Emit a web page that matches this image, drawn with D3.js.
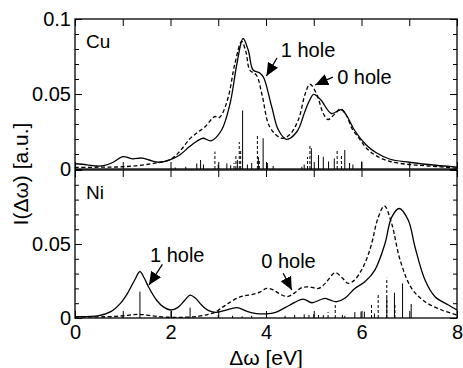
<!DOCTYPE html>
<html>
<head>
<meta charset="utf-8">
<script src="https://cdn.jsdelivr.net/npm/d3@7"></script>
<style>
  body { margin: 0; background: #fff; }
  svg text { font-family: "Liberation Sans", Arial, Helvetica, sans-serif; fill: #000; }
</style>
</head>
<body>
<div id="chart"></div>
<script>
// Cu panel, broadened spectra [energy eV, intensity]
var cuOneHole = [[0,0.0035],[0.25,0.0028],[0.45,0.002],[0.6,0.0022],[0.8,0.0045],[1.0,0.0082],[1.2,0.0068],[1.4,0.0073],[1.55,0.006],[1.75,0.0045],[2.0,0.0062],[2.2,0.0095],[2.4,0.015],[2.55,0.0185],[2.68,0.0205],[2.85,0.0188],[3.07,0.026],[3.25,0.044],[3.39,0.07],[3.52,0.087],[3.63,0.079],[3.73,0.066],[3.87,0.064],[3.95,0.061],[4.12,0.0415],[4.26,0.026],[4.43,0.0198],[4.65,0.025],[4.8,0.037],[4.9,0.045],[5.0,0.0498],[5.15,0.046],[5.37,0.037],[5.58,0.0395],[5.7,0.035],[5.85,0.026],[6.1,0.016],[6.3,0.011],[6.6,0.0065],[7.0,0.0045],[7.4,0.003],[8.0,0.0012]];
var cuZeroHole = [[0,0.001],[0.5,0.0012],[1.0,0.0015],[1.5,0.003],[2.0,0.0065],[2.2,0.012],[2.4,0.02],[2.55,0.024],[2.72,0.028],[2.93,0.035],[3.0,0.034],[3.07,0.036],[3.21,0.048],[3.35,0.0705],[3.49,0.085],[3.58,0.078],[3.66,0.066],[3.8,0.0625],[3.92,0.049],[4.08,0.028],[4.33,0.0205],[4.5,0.023],[4.68,0.033],[4.82,0.05],[4.92,0.0565],[5.06,0.05],[5.2,0.037],[5.3,0.033],[5.45,0.037],[5.56,0.04],[5.68,0.036],[5.8,0.027],[5.95,0.0205],[6.1,0.014],[6.3,0.009],[6.6,0.005],[7.0,0.003],[7.4,0.002],[8.0,0.0005]];
// Cu panel, line spectra [energy eV, weight]
var cuOneHoleSticks = [[2.32,0.0015],[2.55,0.0037],[2.63,0.006],[2.69,0.003],[3.0,0.003],[3.18,0.0037],[3.26,0.0025],[3.4,0.006],[3.51,0.039],[3.61,0.003],[3.7,0.004],[3.84,0.008],[3.94,0.0205],[4.03,0.004],[4.15,0.002],[4.75,0.0015],[4.8,0.003],[4.95,0.0138],[5.1,0.0093],[5.2,0.0082],[5.31,0.005],[5.43,0.007],[5.65,0.0127],[5.75,0.004],[5.82,0.003],[6.0,0.005]];
var cuZeroHoleSticks = [[2.1,0.001],[2.93,0.0116],[3.33,0.004],[3.37,0.0093],[3.44,0.018],[3.47,0.012],[3.82,0.0227],[3.86,0.006],[4.87,0.008],[4.92,0.0167],[5.49,0.0127],[5.58,0.0093]];

// Ni panel
var niOneHole = [[0,0.0009],[0.5,0.0016],[0.75,0.0043],[0.95,0.0099],[1.1,0.0167],[1.25,0.0257],[1.36,0.0313],[1.45,0.027],[1.54,0.021],[1.71,0.012],[1.85,0.0075],[2.0,0.0054],[2.15,0.007],[2.3,0.012],[2.41,0.0155],[2.52,0.0135],[2.65,0.0088],[2.8,0.005],[2.95,0.0038],[3.15,0.0052],[3.39,0.007],[3.6,0.0045],[3.8,0.003],[4.0,0.0028],[4.2,0.0038],[4.4,0.007],[4.6,0.0105],[4.78,0.0128],[4.96,0.0103],[5.15,0.0125],[5.24,0.0133],[5.35,0.012],[5.48,0.011],[5.65,0.0133],[5.86,0.02],[6.07,0.0245],[6.28,0.0324],[6.49,0.05],[6.63,0.068],[6.79,0.074],[6.98,0.066],[7.12,0.048],[7.33,0.0257],[7.54,0.0144],[7.82,0.0088],[8.0,0.0054]];
var niZeroHole = [[0,0.0007],[0.8,0.001],[1.1,0.0018],[1.33,0.0025],[1.6,0.0015],[1.95,0.0005],[2.3,0.0005],[2.6,0.0012],[2.8,0.0025],[2.93,0.0038],[3.1,0.0075],[3.21,0.0099],[3.39,0.0133],[3.55,0.015],[3.7,0.0158],[3.87,0.0175],[4.01,0.02],[4.15,0.019],[4.3,0.016],[4.45,0.0145],[4.6,0.017],[4.75,0.0205],[4.9,0.021],[5.1,0.02],[5.24,0.0234],[5.45,0.0306],[5.6,0.027],[5.72,0.0234],[5.85,0.0255],[6.0,0.0324],[6.11,0.04],[6.21,0.05],[6.35,0.068],[6.48,0.0757],[6.63,0.064],[6.81,0.039],[7.05,0.02],[7.33,0.011],[7.68,0.0054],[8.0,0.002]];
var niOneHoleSticks = [[1.36,0.0178],[2.02,0.0047],[2.41,0.007],[3.0,0.002],[3.3,0.0015],[3.5,0.0012],[3.7,0.0015],[4.01,0.0043],[4.4,0.0015],[4.6,0.002],[4.8,0.0025],[5.0,0.0025],[5.1,0.002],[5.6,0.002],[5.65,0.0015],[5.86,0.004],[5.99,0.0043],[6.06,0.0043],[6.27,0.003],[6.53,0.0137],[6.69,0.0171],[6.86,0.0234],[7.04,0.0095]];
var niZeroHoleSticks = [[1.0,0.0008],[4.9,0.003],[5.2,0.002],[5.3,0.004],[5.45,0.0088],[6.21,0.0088],[6.35,0.0155],[6.53,0.0272],[6.7,0.0088]];

var xTicks = [0,1,2,3,4,5,6,7,8];
var yMajor = [0,0.05,0.1];
var yMinor = [0.01,0.02,0.03,0.04,0.06,0.07,0.08,0.09];

var width = 463, height = 368;
var svg = d3.select("#chart").append("svg")
  .attr("width", width).attr("height", height);

svg.append("defs").append("marker")
  .attr("id", "arrow")
  .attr("markerUnits", "userSpaceOnUse")
  .attr("markerWidth", 13).attr("markerHeight", 13)
  .attr("viewBox", "0 -5 10 10")
  .attr("refX", 10).attr("refY", 0)
  .attr("orient", "auto")
  .append("path").attr("d", "M0,-4.5L10,0L0,4.5Z").attr("fill", "#000");

var x = d3.scaleLinear().domain([0, 8]).range([75, 457]);

var panels = [
  {name: "Cu", y: d3.scaleLinear().domain([0, 0.1]).range([169, 19]),
   one: cuOneHole, zero: cuZeroHole, oneS: cuOneHoleSticks, zeroS: cuZeroHoleSticks,
   yLabels: [0, 0.05, 0.1], xLabels: false,
   notes: [
     {t: "1 hole", tx: 4.31, ty: 0.0747, ax: 4.23, ay: 0.074, bx: 4.01, by: 0.062},
     {t: "0 hole", tx: 5.49, ty: 0.0565, ax: 5.40, ay: 0.0613, bx: 5.03, by: 0.056}
   ]},
  {name: "Ni", y: d3.scaleLinear().domain([0, 0.1]).range([318, 170]),
   one: niOneHole, zero: niZeroHole, oneS: niOneHoleSticks, zeroS: niZeroHoleSticks,
   yLabels: [0, 0.05], xLabels: true,
   notes: [
     {t: "1 hole", tx: 1.57, ty: 0.038, ax: 1.83, ay: 0.0363, bx: 1.55, by: 0.0223},
     {t: "0 hole", tx: 3.90, ty: 0.0336, ax: 4.36, ay: 0.0302, bx: 4.54, by: 0.0189}
   ]}
];

panels.forEach(function(p) {
  var y = p.y;
  var g = svg.append("g");

  // sticks
  g.selectAll(".s1").data(p.oneS).enter().append("line")
    .attr("x1", function(d) { return x(d[0]); }).attr("x2", function(d) { return x(d[0]); })
    .attr("y1", y(0)).attr("y2", function(d) { return y(d[1]); })
    .attr("stroke", "#000").attr("stroke-width", 1);
  g.selectAll(".s0").data(p.zeroS).enter().append("line")
    .attr("x1", function(d) { return x(d[0]); }).attr("x2", function(d) { return x(d[0]); })
    .attr("y1", y(0)).attr("y2", function(d) { return y(d[1]); })
    .attr("stroke", "#000").attr("stroke-width", 1).attr("stroke-dasharray", "3,2");

  var line = d3.line()
    .x(function(d) { return x(d[0]); })
    .y(function(d) { return y(d[1]); })
    .curve(d3.curveCatmullRom.alpha(0.5));

  g.append("path").datum(p.one).attr("d", line)
    .attr("fill", "none").attr("stroke", "#000").attr("stroke-width", 1.3);
  g.append("path").datum(p.zero).attr("d", line)
    .attr("fill", "none").attr("stroke", "#000").attr("stroke-width", 1.3)
    .attr("stroke-dasharray", "4,2.5");

  // axes, ticks pointing inward
  var bottom = g.append("g").attr("transform", "translate(0," + y(0) + ")")
    .call(d3.axisBottom(x).tickValues(xTicks).tickSize(-7).tickPadding(7)
      .tickFormat(function(d) { return (p.xLabels && d % 2 === 0) ? d : ""; }));
  var top = g.append("g").attr("transform", "translate(0," + y(0.1) + ")")
    .call(d3.axisTop(x).tickValues(xTicks).tickSize(-7).tickFormat(""));
  var left = g.append("g").attr("transform", "translate(" + x(0) + ",0)")
    .call(d3.axisLeft(y).tickValues(yMajor).tickSize(-7).tickPadding(4)
      .tickFormat(function(d) { return p.yLabels.indexOf(d) >= 0 ? (d === 0 ? "0" : String(d)) : ""; }));
  var leftMinor = g.append("g").attr("transform", "translate(" + x(0) + ",0)")
    .call(d3.axisLeft(y).tickValues(yMinor).tickSize(-4).tickFormat(""));
  var right = g.append("g").attr("transform", "translate(" + x(8) + ",0)")
    .call(d3.axisRight(y).tickValues(yMajor).tickSize(-7).tickFormat(""));
  var rightMinor = g.append("g").attr("transform", "translate(" + x(8) + ",0)")
    .call(d3.axisRight(y).tickValues(yMinor).tickSize(-4).tickFormat(""));

  [bottom, top, left, leftMinor, right, rightMinor].forEach(function(a) {
    a.select(".domain").remove();
    a.selectAll("line").attr("stroke", "#000").attr("stroke-width", 1);
    a.selectAll("text").style("font-size", "20px").attr("fill", "#000");
  });

  g.append("rect")
    .attr("x", x(0)).attr("y", y(0.1))
    .attr("width", x(8) - x(0)).attr("height", y(0) - y(0.1))
    .attr("fill", "none").attr("stroke", "#000").attr("stroke-width", 1.3);

  g.append("text").attr("x", x(0) + 11).attr("y", y(0.1) + 29)
    .style("font-size", "19px").text(p.name);

  p.notes.forEach(function(n) {
    g.append("text").attr("x", x(n.tx)).attr("y", y(n.ty))
      .style("font-size", "20px").text(n.t);
    g.append("line")
      .attr("x1", x(n.ax)).attr("y1", y(n.ay))
      .attr("x2", x(n.bx)).attr("y2", y(n.by))
      .attr("stroke", "#000").attr("stroke-width", 1.3)
      .attr("marker-end", "url(#arrow)");
  });
});

svg.append("text")
  .attr("transform", "translate(28,174) rotate(-90)")
  .attr("text-anchor", "middle")
  .style("font-size", "21px")
  .text("I(Δω) [a.u.]");

svg.append("text")
  .attr("x", 266).attr("y", 365)
  .attr("text-anchor", "middle")
  .style("font-size", "21px")
  .text("Δω [eV]");
</script>
</body>
</html>
